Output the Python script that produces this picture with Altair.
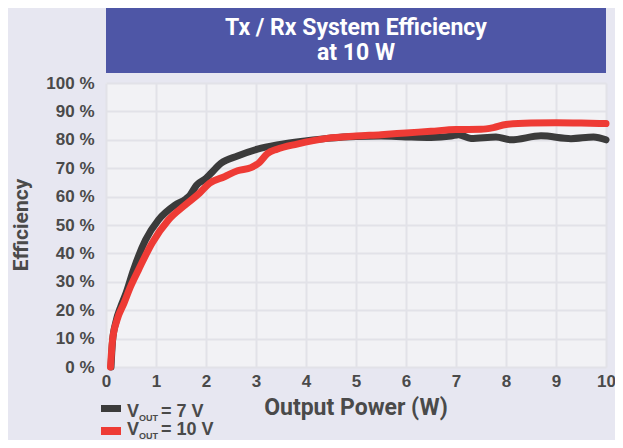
import altair as alt
import pandas as pd

# ---- data ----
x_7v = [0.1, 0.13, 0.2, 0.3, 0.4, 0.55, 0.79, 1.05, 1.38, 1.6, 1.68, 1.81, 2.0, 2.1, 2.3,
        2.63, 3.03, 3.42, 4.02, 4.42, 5.0, 5.5, 6.0, 6.5, 6.9, 7.05, 7.3, 7.8, 8.1, 8.7,
        9.3, 9.75, 10.0]
eff_7v = [0, 9, 16, 21.5, 26, 34.2, 44.7, 51.8, 57, 59.2, 60.5, 64, 66.4, 68.2, 71.7,
          74.3, 76.7, 78.2, 79.7, 80.5, 81.2, 81.3, 81.0, 80.8, 81.3, 81.8, 80.5, 81.0, 80.0, 81.4,
          80.4, 81.0, 80.0]

x_10v = [0.09, 0.13, 0.22, 0.36, 0.49, 0.65, 0.92, 1.25, 1.58, 1.87, 2.07, 2.37, 2.63, 2.9,
         3.06, 3.23, 3.42, 3.82, 4.42, 5.0, 5.5, 6.0, 6.5, 7.0, 7.5, 7.75, 8.0, 8.5, 9.0, 9.5, 10.0]
eff_10v = [0, 9.4, 16.5, 22.5, 28.3, 34.2, 43.6, 51.8, 57, 61.2, 64.7, 67, 69.1, 70.2,
           71.9, 75.2, 76.7, 78.5, 80.5, 81.3, 81.8, 82.4, 83.0, 83.6, 83.7, 84.3, 85.4, 85.9, 86.0, 85.9, 85.7]

series_names = ["7 V", "10 V"]
series_colors = ["#3b3b3b", "#ee3b35"]
x_ticks = list(range(0, 11))
y_ticks = list(range(0, 101, 10))
title_lines = ["Tx / Rx System Efficiency", "at 10 W"]

rows = []
for name, xs, ys in [(series_names[0], x_7v, eff_7v), (series_names[1], x_10v, eff_10v)]:
    for a, b in zip(xs, ys):
        rows.append({"power": a, "eff": b, "series": name})
df = pd.DataFrame(rows)

W, H = 500, 284
FONT = "Roboto"
LFONT = "Liberation Sans"
TXT = "#4a4a4a"

xs = alt.Scale(domain=[0, 10], nice=False)
ys = alt.Scale(domain=[0, 100], nice=False)

lines = alt.Chart(df).mark_line(
    strokeWidth=7, interpolate="monotone", strokeCap="round", strokeJoin="round"
).encode(
    x=alt.X("power:Q", scale=xs, axis=alt.Axis(
        values=x_ticks, title=None, ticks=False, domain=False, labelFontSize=17,
        labelColor=TXT, labelFont=LFONT, labelFontWeight=600, labelFlush=False,
        labelOverlap=False, labelPadding=6, gridColor="#e2e2e8", gridWidth=2)),
    y=alt.Y("eff:Q", scale=ys, axis=alt.Axis(
        values=y_ticks, title=None, ticks=False, domain=False, labelFontSize=17,
        labelColor=TXT, labelFont=LFONT, labelFontWeight=600, labelFlush=False,
        labelOverlap=False, labelPadding=12, labelExpr="datum.value + ' %'",
        gridColor="#e2e2e8", gridWidth=2)),
    color=alt.Color("series:N", scale=alt.Scale(domain=series_names, range=series_colors), legend=None),
    detail="series:N",
    order=alt.Order("series:N", sort="descending"),
)

base = alt.Chart(pd.DataFrame({"a": [0]}))

title_box = base.mark_rect(color="#4e56a6").encode(
    x=alt.value(0), x2=alt.value(W), y=alt.value(-75), y2=alt.value(-10))
t1 = base.mark_text(text=title_lines[0], font=FONT, fontSize=23, fontWeight="bold",
                    color="white", baseline="middle", align="center").encode(
    x=alt.value(W / 2), y=alt.value(-55))
t2 = base.mark_text(text=title_lines[1], font=FONT, fontSize=23, fontWeight="bold",
                    color="white", baseline="middle", align="center").encode(
    x=alt.value(W / 2), y=alt.value(-30))

ytitle = base.mark_text(text="Efficiency", font=FONT, fontSize=21, fontWeight="bold",
                        color=TXT, angle=270, baseline="middle", align="center").encode(
    x=alt.value(-84), y=alt.value(H / 2))
xtitle = base.mark_text(text="Output Power (W)", font=FONT, fontSize=23, fontWeight="bold",
                        color=TXT, baseline="middle", align="center").encode(
    x=alt.value(W / 2), y=alt.value(325))

legend_rect_y = [(322, 329), (344, 352)]
legend_text_y = [334, 352]
legend_layers = []
for i, (name, col) in enumerate(zip(series_names, series_colors)):
    r0, r1 = legend_rect_y[i]
    ty = legend_text_y[i]
    legend_layers.append(base.mark_rect(color=col).encode(
        x=alt.value(-5), x2=alt.value(15), y=alt.value(r0), y2=alt.value(r1)))
    legend_layers.append(base.mark_text(text="V", font=LFONT, fontSize=18, fontWeight="bold",
                                        color=TXT, align="left", baseline="alphabetic").encode(
        x=alt.value(21), y=alt.value(ty)))
    legend_layers.append(base.mark_text(text="OUT", font=LFONT, fontSize=9, fontWeight="bold",
                                        color=TXT, align="left", baseline="alphabetic").encode(
        x=alt.value(33), y=alt.value(ty + 3.5)))
    legend_layers.append(base.mark_text(text="= " + name, font=LFONT, fontSize=18, fontWeight="bold",
                                        color=TXT, align="left", baseline="alphabetic").encode(
        x=alt.value(55), y=alt.value(ty)))

chart = alt.layer(lines, title_box, t1, t2, ytitle, xtitle, *legend_layers).properties(
    width=W, height=H,
    autosize=alt.AutoSizeParams(type="none"),
    padding={"left": 98, "top": 75, "right": 9, "bottom": 73},
    background="#e7e7f1",
).configure_view(fill="#f2f2f5", stroke=None)

chart.save("out.html", embed_options={"renderer": "svg", "actions": False})
